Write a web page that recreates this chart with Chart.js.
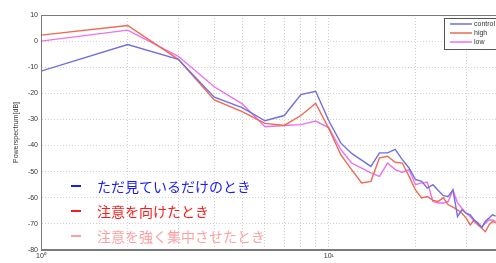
<!DOCTYPE html>
<html>
<head>
<meta charset="utf-8">
<script src="https://cdn.jsdelivr.net/npm/chart.js@4/dist/chart.umd.min.js"></script>
<style>
  html, body { margin: 0; padding: 0; background: #fff; overflow: hidden; width: 496px; height: 263px; }
  #wrap { position: relative; width: 540px; height: 263px; }
  .note { position: absolute; left: 71px; font-family: "Noto Sans CJK JP", sans-serif; font-size: 14px; line-height: 16px; white-space: nowrap; }
  .note .dash { position: absolute; left: 0; top: 7px; width: 10px; height: 2px; }
  .note .txt { position: absolute; left: 26px; top: 0; }
</style>
</head>
<body>
<div id="wrap">
  <canvas id="myChart" width="540" height="263"></canvas>
  <div class="note" style="top:178px;color:#1a1aff"><span class="dash" style="background:#1a1aff"></span><span class="txt">ただ見ているだけのとき</span></div>
  <div class="note" style="top:203px;color:#ff1a1a"><span class="dash" style="background:#ff1a1a"></span><span class="txt">注意を向けたとき</span></div>
  <div class="note" style="top:228px;color:#ffa0a0"><span class="dash" style="background:#ffa0a0"></span><span class="txt">注意を強く集中させたとき</span></div>
</div>
<script>
// 周波数 (Hz)
var freqs = [1, 2, 3, 4, 5, 6, 7, 8, 9, 10, 11, 12, 13, 14, 15, 16, 17, 18, 19, 20,
  21, 22, 23, 24, 25, 26, 27, 28, 29, 30, 31, 32, 33, 34, 35, 36, 37, 38];

var controlVals = [-11.5, -1.3, -7, -21.5, -25.5, -30.5, -28.5, -20.5, -19.2, -30.5,
  -39, -43, -45.6, -48, -42.8, -42.8, -41.5, -45.4, -48.6, -53,
  -53.7, -56.3, -55, -57.2, -59.2, -59.5, -57, -67.2, -64.6, -65.9,
  -66.5, -68.5, -69.7, -71.3, -69, -67.8, -66.5, -67];

var highVals = [2.3, 6, -7, -22.5, -27, -31.5, -32.3, -28.5, -23.8, -33.5,
  -43.5, -49.2, -54.3, -53.7, -44.7, -44.1, -46.4, -46.7, -51.8, -57,
  -60.1, -59.5, -61, -61.4, -60, -62.7, -63.6, -64.6, -65.9, -67.8,
  -70.4, -68.5, -70.4, -71.7, -73, -70.4, -69.1, -69.5];

var lowVals = [0, 4.2, -5.8, -17.5, -24, -32.8, -32.3, -32, -30.6, -33.2,
  -41.5, -46.7, -48.6, -50.5, -51.8, -46.7, -49.2, -50.3, -49.2, -55,
  -54.3, -54.1, -61.4, -62, -62, -61.4, -57, -62, -64, -65.9,
  -67.2, -69.1, -70.4, -71.3, -69.7, -68.5, -68.5, -69];

var seriesNames = ["control", "high", "low"];
var seriesColors = ["#6f6fe0", "#ee6a50", "#ee70ee"];

var xGrid = [1, 2, 3, 4, 5, 6, 7, 8, 9, 10, 20, 30, 40, 50];
var xLabels = { 1: "10⁰", 10: "10¹" };
var yTicks = [-80, -70, -60, -50, -40, -30, -20, -10, 0, 10];

function toPoints(vals) {
  return freqs.map(function (f, i) { return { x: f, y: vals[i] }; });
}

// 枠線と凡例
var boxPlugin = {
  id: "boxPlugin",
  afterDraw: function (chart) {
    var ctx = chart.ctx;
    var a = chart.chartArea;
    ctx.save();
    ctx.strokeStyle = "#7a7a7a";
    ctx.lineWidth = 1;
    ctx.strokeRect(a.left + 0.5, a.top + 0.5, a.right - a.left - 1, a.bottom - a.top - 1);

    // 凡例
    var lx = 444, ly = 18, lw = 90, lh = 31;
    ctx.fillStyle = "#fff";
    ctx.fillRect(lx, ly, lw, lh);
    ctx.strokeStyle = "#555";
    ctx.strokeRect(lx + 0.5, ly + 0.5, lw, lh);
    ctx.font = "7px 'Liberation Sans', sans-serif";
    ctx.textBaseline = "middle";
    seriesNames.forEach(function (name, i) {
      var y = ly + 6 + i * 9;
      ctx.strokeStyle = seriesColors[i];
      ctx.lineWidth = 1.5;
      ctx.beginPath();
      ctx.moveTo(lx + 6, y);
      ctx.lineTo(lx + 28, y);
      ctx.stroke();
      ctx.fillStyle = "#333";
      ctx.fillText(name, lx + 30, y);
    });
    ctx.restore();
  }
};

var ctx = document.getElementById("myChart").getContext("2d");
var chart = new Chart(ctx, {
  type: "line",
  data: {
    datasets: [
      { label: seriesNames[0], data: toPoints(controlVals), borderColor: seriesColors[0] },
      { label: seriesNames[1], data: toPoints(highVals), borderColor: seriesColors[1] },
      { label: seriesNames[2], data: toPoints(lowVals), borderColor: seriesColors[2] }
    ]
  },
  options: {
    responsive: false,
    animation: false,
    layout: { padding: { top: 15, right: 10, left: 0, bottom: 0 } },
    elements: {
      point: { radius: 0 },
      line: { borderWidth: 1.4, tension: 0, fill: false }
    },
    plugins: {
      legend: { display: false },
      tooltip: { enabled: false }
    },
    scales: {
      x: {
        type: "logarithmic",
        min: 1,
        max: 50,
        afterBuildTicks: function (scale) {
          scale.ticks = xGrid.map(function (v) { return { value: v }; });
        },
        afterFit: function (scale) { scale.height = 13; },
        ticks: {
          autoSkip: false,
          maxRotation: 0,
          padding: 2,
          color: "#333",
          font: { size: 7, family: "'Liberation Sans', sans-serif" },
          callback: function (v) { return xLabels[v] || ""; }
        },
        grid: { color: "#d0d0d0", drawTicks: false },
        border: { color: "#7a7a7a", dash: [1, 2] }
      },
      y: {
        min: -80,
        max: 10,
        afterBuildTicks: function (scale) {
          scale.ticks = yTicks.map(function (v) { return { value: v }; });
        },
        afterFit: function (scale) { scale.width = 41; },
        ticks: {
          padding: 3,
          color: "#333",
          font: { size: 7, family: "'Liberation Sans', sans-serif" }
        },
        title: {
          display: true,
          text: "Powerspectrum[dB]",
          color: "#333",
          font: { size: 7, family: "'Liberation Sans', sans-serif" },
          padding: { top: 12, bottom: 0 }
        },
        grid: { color: "#d0d0d0", drawTicks: false },
        border: { color: "#7a7a7a", dash: [1, 2] }
      }
    }
  },
  plugins: [boxPlugin]
});
</script>
</body>
</html>
